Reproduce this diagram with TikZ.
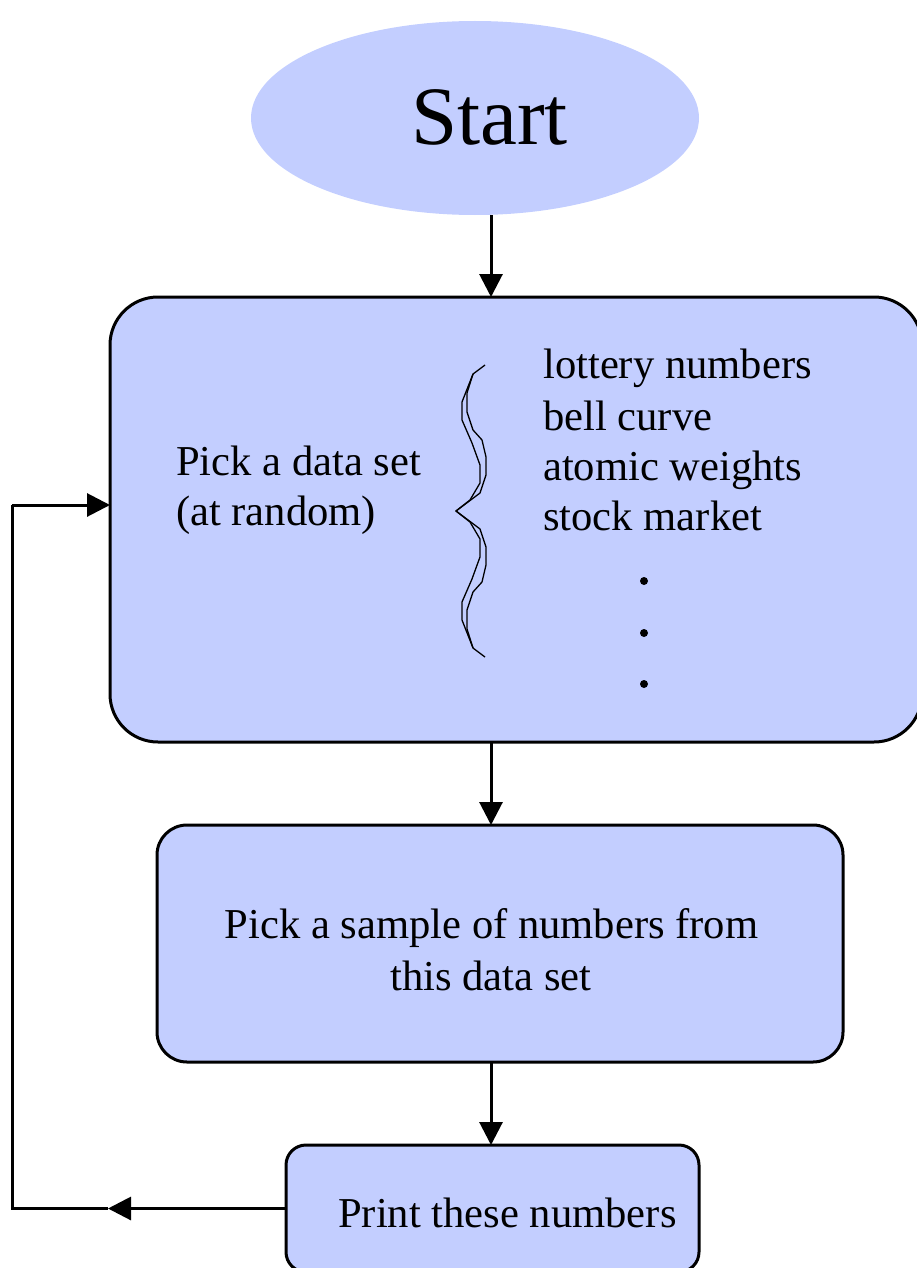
\documentclass[tikz,border=0pt]{standalone}
\usepackage{fontspec}
\setmainfont{Liberation Serif}
\usetikzlibrary{arrows.meta,shapes.geometric}
\definecolor{boxfill}{HTML}{C3CEFF}
\begin{document}
\begin{tikzpicture}[x=1pt,y=-1pt,
  box/.style={draw=black,line width=3pt,fill=boxfill,outer sep=0pt,inner sep=0pt},
  conn/.style={line width=3pt,-{Triangle[length=23pt,width=23pt]}},
  plainline/.style={line width=3pt},
  txt/.style={inner sep=0pt,anchor=base west,font=\fontsize{42.6}{51}\selectfont},
  ctxt/.style={txt,anchor=base},
  dot/.style={circle,fill=black,inner sep=0pt,minimum size=8pt},
  bracestroke/.style={line width=1.3pt,line join=round}]
\useasboundingbox (0,0) rectangle (916,1268);
% start ellipse
\node[ellipse,fill=boxfill,minimum width=448pt,minimum height=194pt,inner sep=0pt,outer sep=0pt] (start) at (475,118) {};
\node[txt,font=\fontsize{83}{90}\selectfont] (starttxt) at (411,145) {Start};
% boxes
\node[box,rounded corners=48pt,minimum width=812pt,minimum height=445pt] (b1) at (516,519.5) {};
\node[box,rounded corners=30pt,minimum width=686pt,minimum height=237pt] (b2) at (500,943.5) {};
\node[box,rounded corners=20pt,minimum width=413pt,minimum height=127pt] (b3) at (492.5,1208.5) {};
% texts box 1
\node[txt] (p1) at (176,475) {Pick a data set};
\node[txt] (p2) at (176,525) {(at random)};
\node[txt] (l1) at (543,378) {lottery numbers};
\node[txt] (l2) at (543,430) {bell curve};
\node[txt] (l3) at (543,480) {atomic weights};
\node[txt] (l4) at (543,530) {stock market};
\node[dot] (d1) at (644,581) {};
\node[dot] (d2) at (644,633) {};
\node[dot] (d3) at (644,684) {};
% brace
\draw[bracestroke] (485,365) -- (473,374) -- (462,402) -- (462,420) -- (472,443) -- (480,465) -- (480,483) -- (470,500) -- (456,511)
  -- (470,522) -- (480,539) -- (480,557) -- (472,579) -- (462,602) -- (462,620) -- (473,648) -- (485,657);
\draw[bracestroke] (473,374) -- (467,393) -- (467,412) -- (473,430) -- (482,440) -- (486,457) -- (486,475) -- (480,493) -- (468,502) -- (456,511)
  -- (468,520) -- (480,529) -- (486,547) -- (486,565) -- (482,582) -- (473,592) -- (467,610) -- (467,629) -- (473,648);
% texts box 2, 3
\node[ctxt] (s1) at (491.5,938) {Pick a sample of numbers from};
\node[ctxt] (s2) at (491,990) {this data set};
\node[txt] (pr) at (338,1227) {Print these numbers};
% connectors
\coordinate (ax) at (491,0);
\draw[conn] (ax |- start.south) -- (ax |- b1.north);
\draw[conn] (ax |- b1.south) -- (ax |- b2.north);
\draw[conn] (ax |- b2.south) -- (ax |- b3.north);
\coordinate (mid) at (108,1208.5);
\coordinate (lb) at (12,1208.5);
\coordinate (lt) at (12,505);
\draw[conn] (b3.west) -- (mid);
\draw[plainline] (mid) -- (lb) -- (lt);
\draw[conn] (lt) -- (lt -| b1.west);
\end{tikzpicture}
\end{document}
